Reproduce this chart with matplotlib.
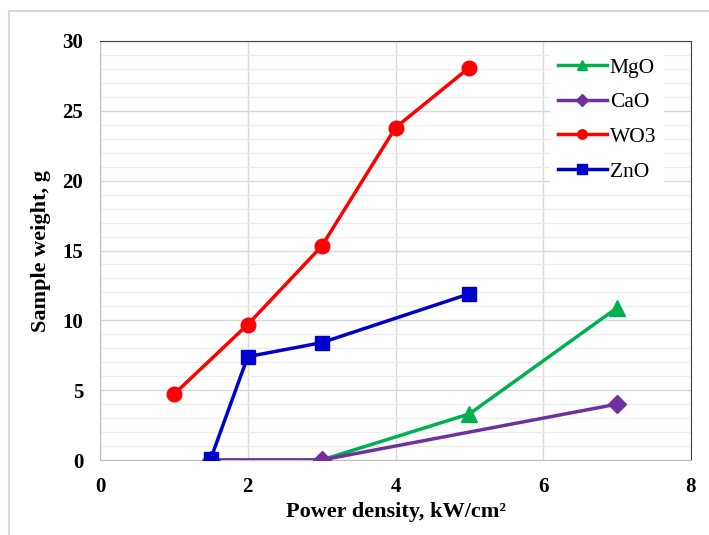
import matplotlib.pyplot as plt
from matplotlib.patches import Rectangle

# Data
mgo_x = [1.5, 3, 5, 7]
mgo_y = [0, 0, 3.3, 10.9]
cao_x = [1.5, 3, 7]
cao_y = [0, 0, 4.0]
wo3_x = [1, 2, 3, 4, 5]
wo3_y = [4.7, 9.7, 15.3, 23.8, 28.1]
zno_x = [1.5, 2, 3, 5]
zno_y = [0.1, 7.4, 8.4, 11.9]

plt.rcParams['font.family'] = ['Liberation Serif', 'DejaVu Serif']

fig = plt.figure(figsize=(7.09, 5.35), dpi=100)
# outer chart-area border
fig.patches.append(Rectangle((9 / 709, -0.05), 1.0, (535 - 11) / 535 + 0.05,
                             transform=fig.transFigure, fill=False,
                             edgecolor='#d9d9d9', linewidth=1.5))
ax = fig.add_axes([100 / 709, 75 / 535, 591 / 709, 419 / 535])

ax.plot(mgo_x, mgo_y, color='#00b050', lw=2.5, marker='^', ms=11, label='MgO', zorder=3)
ax.plot(cao_x, cao_y, color='#7030a0', lw=2.5, marker='D', ms=9, label='CaO', zorder=3)
ax.plot(wo3_x, wo3_y, color='#ff0000', lw=2.5, marker='o', ms=10.5, label='WO3', zorder=3)
ax.plot(zno_x, zno_y, color='#0000cc', lw=2.5, marker='s', ms=10, label='ZnO', zorder=3)

ax.set_xlim(0, 8)
ax.set_ylim(0, 30)
ax.set_xticks([0, 2, 4, 6, 8])
ax.set_yticks([0, 5, 10, 15, 20, 25, 30])
ax.set_yticks(range(0, 31), minor=True)
ax.grid(which='major', color='#d9d9d9', lw=1)
ax.grid(which='minor', axis='y', color='#ececec', lw=0.8)
ax.set_axisbelow(True)
ax.tick_params(which='both', length=0, labelsize=15)
ax.tick_params(axis='y', pad=12)
ax.tick_params(axis='x', pad=12)
for lab in ax.get_xticklabels() + ax.get_yticklabels():
    lab.set_fontweight('bold')

ax.spines['top'].set_color('#404040')
ax.spines['right'].set_color('#404040')
ax.spines['left'].set_color('#bfbfbf')
ax.spines['bottom'].set_color('#bfbfbf')

ax.set_xlabel('Power density, kW/cm²', fontsize=16, fontweight='bold', labelpad=4)
ax.set_ylabel('Sample weight, g', fontsize=16, fontweight='bold', labelpad=8)

leg = ax.legend(loc='upper left', bbox_to_anchor=((550 - 100) / 591, (460 - 50) / 419),
                fontsize=15.5, markerscale=0.65,
                frameon=True, facecolor='white', edgecolor='none', framealpha=1,
                handlelength=2.3, labelspacing=0.68, borderpad=0.35, borderaxespad=0,
                handletextpad=0.12)

fig.savefig('out.png', dpi=100)
